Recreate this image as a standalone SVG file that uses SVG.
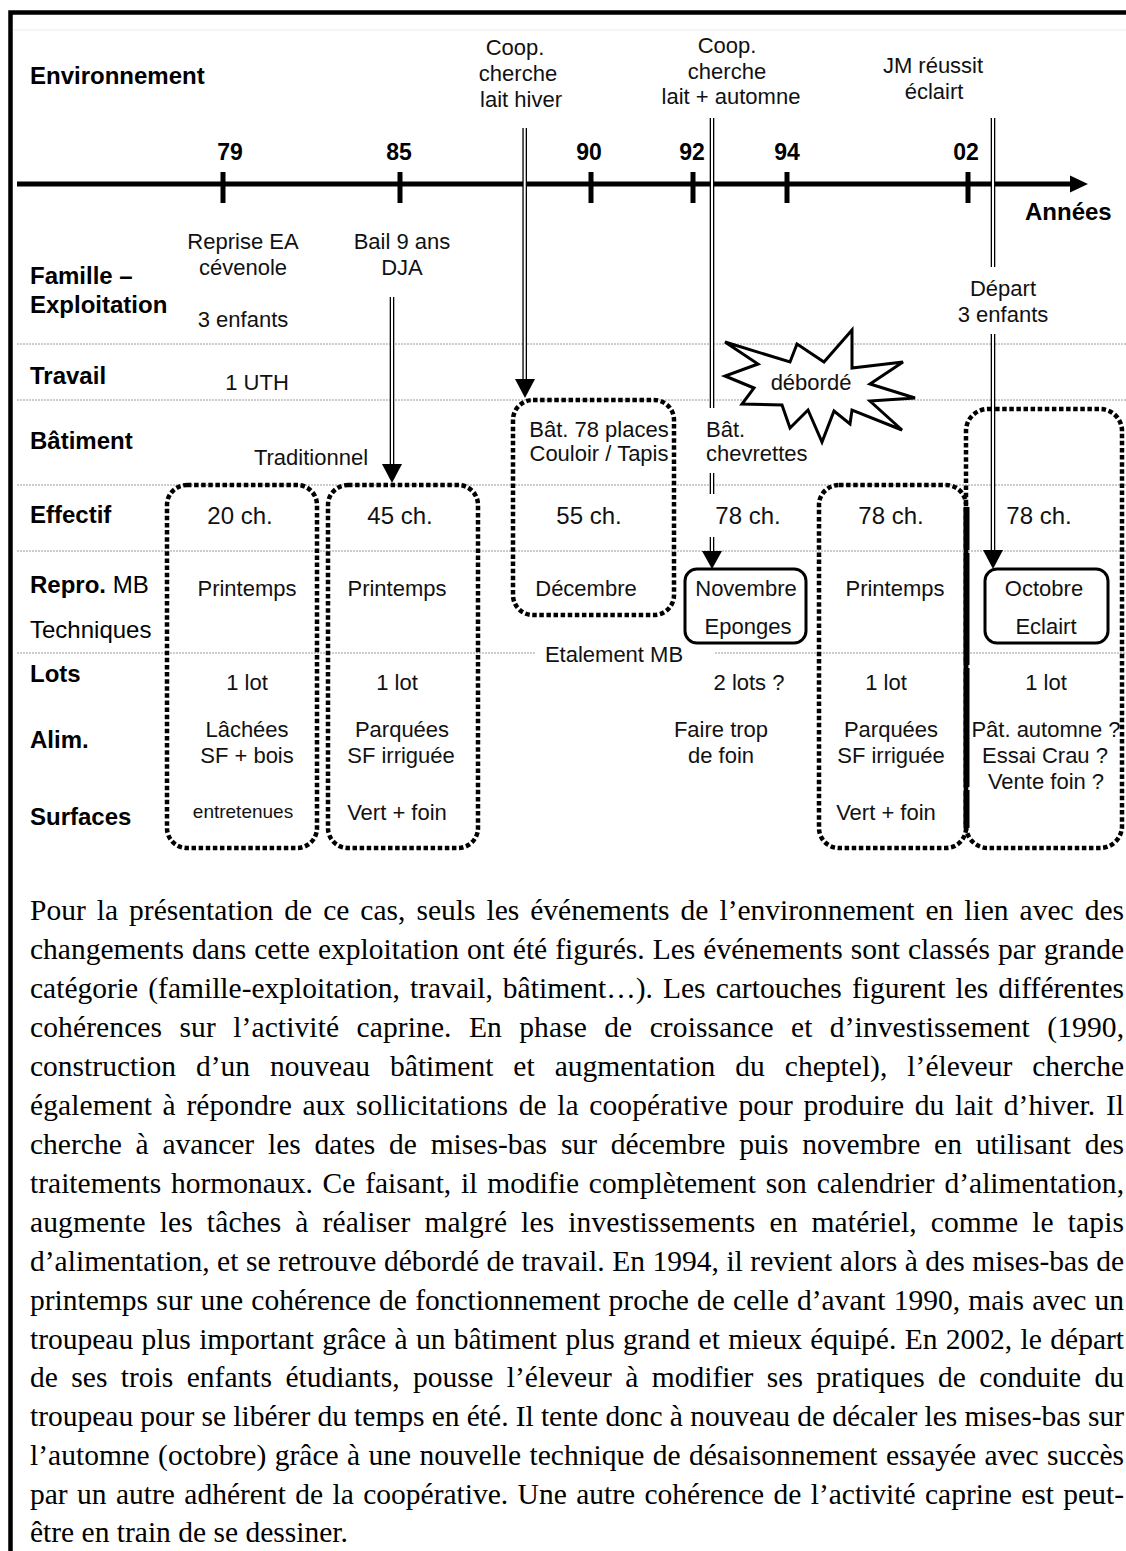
<svg xmlns="http://www.w3.org/2000/svg" width="1126" height="1551" viewBox="0 0 1126 1551">
<style>
.lbl{font-family:"Liberation Sans",Arial,sans-serif;font-size:24px;font-weight:bold;fill:#000}
.lr{font-family:"Liberation Sans",Arial,sans-serif;font-size:24px;fill:#000}
.t{font-family:"Liberation Sans",Arial,sans-serif;font-size:22px;fill:#111;text-anchor:middle}
.eff{font-size:24px}
.tl{font-family:"Liberation Sans",Arial,sans-serif;font-size:22px;fill:#111}
.yr{font-family:"Liberation Sans",Arial,sans-serif;font-size:23px;font-weight:bold;fill:#000;text-anchor:middle}
.sep{stroke:#9a9a9a;stroke-width:1;stroke-dasharray:2 1;fill:none}
.dot{fill:none;stroke:#000;stroke-width:4.5;stroke-dasharray:4.5 2.6}
.solid{fill:none;stroke:#000;stroke-width:3}
.dbo{stroke:#000;stroke-width:4.6;fill:none}
.dbi{stroke:#fff;stroke-width:2;fill:none}
.ah{fill:#000}
.p{font-family:"Liberation Serif","Times New Roman",serif;font-size:29.5px;fill:#000}
</style>
<rect x="0" y="0" width="1126" height="1551" fill="#fff"/>
<g id="frame">
<path d="M10.5,1551 V12.5 H1126" fill="none" stroke="#000" stroke-width="4.5"/>
<line x1="13" y1="30" x2="1126" y2="30" stroke="#ececec" stroke-width="1"/>
</g>
<g id="separators">
<line class="sep" x1="17" y1="344" x2="1126" y2="344"/>
<line class="sep" x1="17" y1="400" x2="1126" y2="400"/>
<line class="sep" x1="17" y1="485" x2="1126" y2="485"/>
<line class="sep" x1="17" y1="551" x2="1126" y2="551"/>
<line class="sep" x1="17" y1="653" x2="535" y2="653"/>
<line class="sep" x1="715" y1="653" x2="1126" y2="653"/>
</g>
<g id="axis">
<line x1="17" y1="184" x2="1072" y2="184" stroke="#000" stroke-width="5"/>
<polygon points="1070,175.5 1088,184 1070,192.5" fill="#000"/>
<g stroke="#000" stroke-width="5">
<line x1="223" y1="172" x2="223" y2="203"/>
<line x1="400" y1="172" x2="400" y2="203"/>
<line x1="591" y1="172" x2="591" y2="203"/>
<line x1="693" y1="172" x2="693" y2="203"/>
<line x1="787" y1="172" x2="787" y2="203"/>
<line x1="968" y1="172" x2="968" y2="203"/>
</g>
<text class="yr" x="230" y="160">79</text>
<text class="yr" x="399" y="160">85</text>
<text class="yr" x="589" y="160">90</text>
<text class="yr" x="692" y="160">92</text>
<text class="yr" x="787" y="160">94</text>
<text class="yr" x="966" y="160">02</text>
<text class="lbl" x="1025" y="220">Années</text>
</g>
<g id="row-labels">
<text class="lbl" x="30" y="84">Environnement</text>
<text class="lbl" x="30" y="284">Famille –</text>
<text class="lbl" x="30" y="313">Exploitation</text>
<text class="lbl" x="30" y="384">Travail</text>
<text class="lbl" x="30" y="449">Bâtiment</text>
<text class="lbl" x="30" y="523">Effectif</text>
<text class="lbl" x="30" y="593">Repro.<tspan class="lr" style="font-weight:normal"> MB</tspan></text>
<text class="lr" x="30" y="638">Techniques</text>
<text class="lbl" x="30" y="682">Lots</text>
<text class="lbl" x="30" y="748">Alim.</text>
<text class="lbl" x="30" y="825">Surfaces</text>
</g>
<g id="env-events">
<text class="t" x="515" y="55">Coop.</text>
<text class="t" x="518" y="81">cherche</text>
<text class="t" x="521" y="107">lait hiver</text>
<text class="t" x="727" y="53">Coop.</text>
<text class="t" x="727" y="79">cherche</text>
<text class="t" x="731" y="104">lait + automne</text>
<text class="t" x="933" y="73">JM réussit</text>
<text class="t" x="934" y="99">éclairt</text>
</g>
<g id="star-deborde">
<polygon points="725,342 790,362 797,344 824,362 852,330 852,368 903,362 870,384 915,398 870,401 902,430 852,410 850,424 834,411 822,442 808,410 790,428 782,405 742,404 754,388 725,376 758,364" fill="#fff" stroke="#000" stroke-width="3" stroke-linejoin="miter"/>
<text class="t" x="811" y="390">débordé</text>
</g>
<g id="box-79">
<rect class="dot" x="167" y="485" width="150" height="363" rx="20"/>
<text class="t" x="243" y="249">Reprise EA</text>
<text class="t" x="243" y="275">cévenole</text>
<text class="t" x="243" y="327">3 enfants</text>
<text class="t" x="257" y="390">1 UTH</text>
<text class="t eff" x="240" y="524">20 ch.</text>
<text class="t" x="247" y="596">Printemps</text>
<text class="t" x="247" y="690">1 lot</text>
<text class="t" x="247" y="737">Lâchées</text>
<text class="t" x="247" y="763">SF + bois</text>
<text class="t" x="243" y="818" style="font-size:19px">entretenues</text>
</g>
<g id="box-85">
<rect class="dot" x="328" y="485" width="150" height="363" rx="20"/>
<text class="t" x="402" y="249">Bail 9 ans</text>
<text class="t" x="402" y="275">DJA</text>
<text class="t" x="311" y="465">Traditionnel</text>
<text class="t eff" x="400" y="524">45 ch.</text>
<text class="t" x="397" y="596">Printemps</text>
<text class="t" x="397" y="690">1 lot</text>
<text class="t" x="402" y="737">Parquées</text>
<text class="t" x="401" y="763">SF irriguée</text>
<text class="t" x="397" y="820">Vert + foin</text>
</g>
<g id="box-90">
<rect class="dot" x="513" y="400" width="161" height="215" rx="20"/>
<text class="t" x="599" y="437">Bât. 78 places</text>
<text class="t" x="599" y="461">Couloir / Tapis</text>
<text class="t eff" x="589" y="524">55 ch.</text>
<text class="t" x="586" y="596">Décembre</text>
<text class="t" x="614" y="662">Etalement MB</text>
</g>
<g id="col-92">
<text class="tl" x="706" y="437">Bât.</text>
<text class="tl" x="706" y="461">chevrettes</text>
<text class="t eff" x="748" y="524">78 ch.</text>
<text class="t" x="749" y="690">2 lots ?</text>
<text class="t" x="721" y="737">Faire trop</text>
<text class="t" x="721" y="763">de foin</text>
</g>
<g id="box-novembre">
<rect class="solid" x="685" y="569" width="121" height="74" rx="12"/>
<text class="t" x="746" y="596">Novembre</text>
<text class="t" x="748" y="634">Eponges</text>
</g>
<g id="box-94">
<rect class="dot" x="819" y="485" width="147" height="363" rx="20"/>
<text class="t eff" x="891" y="524">78 ch.</text>
<text class="t" x="895" y="596">Printemps</text>
<text class="t" x="886" y="690">1 lot</text>
<text class="t" x="891" y="737">Parquées</text>
<text class="t" x="891" y="763">SF irriguée</text>
<text class="t" x="886" y="820">Vert + foin</text>
</g>
<g id="box-02">
<rect class="dot" x="966" y="409" width="156" height="439" rx="22"/>
<text class="t" x="1003" y="296">Départ</text>
<text class="t" x="1003" y="322">3 enfants</text>
<text class="t eff" x="1039" y="524">78 ch.</text>
<text class="t" x="1046" y="690">1 lot</text>
<text class="t" x="1046" y="737">Pât. automne ?</text>
<text class="t" x="1045" y="763">Essai Crau ?</text>
<text class="t" x="1046" y="789">Vente foin ?</text>
</g>
<g id="box-octobre">
<rect class="solid" x="985" y="569" width="123" height="74" rx="12"/>
<text class="t" x="1044" y="596">Octobre</text>
<text class="t" x="1046" y="634">Eclairt</text>
</g>
<g id="divider-02">
<g stroke="#000" stroke-width="6">
<line x1="966.5" y1="507" x2="966.5" y2="550"/>
<line x1="966.5" y1="553" x2="966.5" y2="665"/>
<line x1="966.5" y1="668" x2="966.5" y2="787"/>
<line x1="966.5" y1="790" x2="966.5" y2="828"/>
</g>
</g>
<g id="connectors">
<path class="dbo" d="M392,297 V465"/><path class="dbi" d="M392,297 V465"/>
<polygon class="ah" points="382,464 402,464 392,483"/>
<path class="dbo" d="M524.7,128 V380"/><path class="dbi" d="M524.7,128 V380"/>
<polygon class="ah" points="515,379 535,379 525,398"/>
<path class="dbo" d="M712,118 V408 M712,473 V494 M712,537 V552"/><path class="dbi" d="M712,118 V408 M712,473 V494 M712,537 V552"/>
<polygon class="ah" points="702,551 722,551 712,569"/>
<path class="dbo" d="M993,118 V267 M993,334 V551"/><path class="dbi" d="M993,118 V267 M993,334 V551"/>
<polygon class="ah" points="983,550 1003,550 993,569"/>
</g>
<g id="paragraph">
<text class="p" x="30" y="920" word-spacing="3.6" textLength="1094" lengthAdjust="spacing">Pour la présentation de ce cas, seuls les événements de l’environnement en lien avec des</text>
<text class="p" x="30" y="959" word-spacing="0.7" textLength="1094" lengthAdjust="spacing">changements dans cette exploitation ont été figurés. Les événements sont classés par grande</text>
<text class="p" x="30" y="998" word-spacing="2.7" textLength="1094" lengthAdjust="spacing">catégorie (famille-exploitation, travail, bâtiment…). Les cartouches figurent les différentes</text>
<text class="p" x="30" y="1037" word-spacing="9.8" textLength="1094" lengthAdjust="spacing">cohérences sur l’activité caprine. En phase de croissance et d’investissement (1990,</text>
<text class="p" x="30" y="1076" word-spacing="12.6" textLength="1094" lengthAdjust="spacing">construction d’un nouveau bâtiment et augmentation du cheptel), l’éleveur cherche</text>
<text class="p" x="30" y="1115" word-spacing="3.1" textLength="1094" lengthAdjust="spacing">également à répondre aux sollicitations de la coopérative pour produire du lait d’hiver. Il</text>
<text class="p" x="30" y="1154" word-spacing="6.4" textLength="1094" lengthAdjust="spacing">cherche à avancer les dates de mises-bas sur décembre puis novembre en utilisant des</text>
<text class="p" x="30" y="1193" word-spacing="2.4" textLength="1094" lengthAdjust="spacing">traitements hormonaux. Ce faisant, il modifie complètement son calendrier d’alimentation,</text>
<text class="p" x="30" y="1232" word-spacing="6.5" textLength="1094" lengthAdjust="spacing">augmente les tâches à réaliser malgré les investissements en matériel, comme le tapis</text>
<text class="p" x="30" y="1271" word-spacing="0.1" textLength="1094" lengthAdjust="spacing">d’alimentation, et se retrouve débordé de travail. En 1994, il revient alors à des mises-bas de</text>
<text class="p" x="30" y="1310" word-spacing="0.8" textLength="1094" lengthAdjust="spacing">printemps sur une cohérence de fonctionnement proche de celle d’avant 1990, mais avec un</text>
<text class="p" x="30" y="1349" word-spacing="1" textLength="1094" lengthAdjust="spacing">troupeau plus important grâce à un bâtiment plus grand et mieux équipé. En 2002, le départ</text>
<text class="p" x="30" y="1387" word-spacing="6" textLength="1094" lengthAdjust="spacing">de ses trois enfants étudiants, pousse l’éleveur à modifier ses pratiques de conduite du</text>
<text class="p" x="30" y="1426" word-spacing="-0.2" textLength="1094" lengthAdjust="spacing">troupeau pour se libérer du temps en été. Il tente donc à nouveau de décaler les mises-bas sur</text>
<text class="p" x="30" y="1465" word-spacing="1" textLength="1094" lengthAdjust="spacing">l’automne (octobre) grâce à une nouvelle technique de désaisonnement essayée avec succès</text>
<text class="p" x="30" y="1504" word-spacing="2" textLength="1094" lengthAdjust="spacing">par un autre adhérent de la coopérative. Une autre cohérence de l’activité caprine est peut-</text>
<text class="p" x="30" y="1542">être en train de se dessiner.</text>
</g>
</svg>
